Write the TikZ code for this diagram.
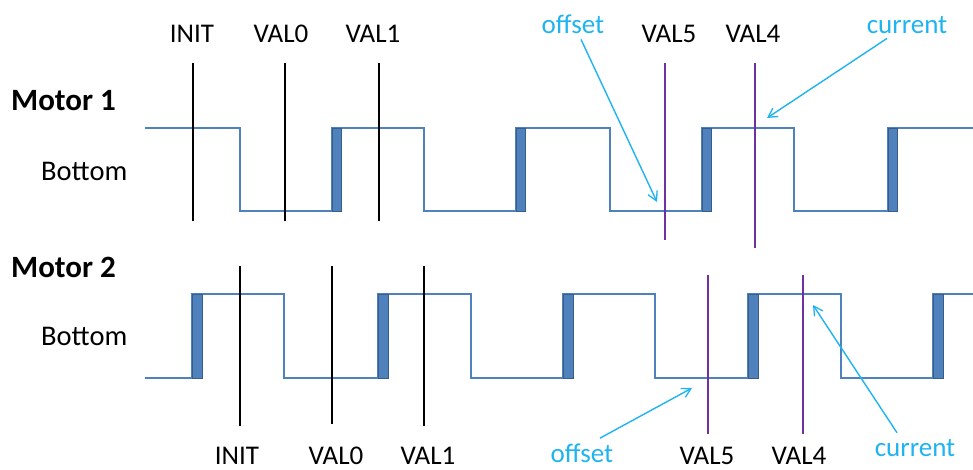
\documentclass[tikz,border=0pt]{standalone}
\usepackage{fontspec}
\setmainfont{Carlito}
\usetikzlibrary{arrows.meta}
\definecolor{wave}{HTML}{4F81BD}
\definecolor{waveedge}{HTML}{385D8A}
\definecolor{purp}{HTML}{7030A0}
\definecolor{sky}{HTML}{1FB4F0}
\tikzset{
  wavepath/.style={draw=wave, line width=1.5pt},
  edgebox/.style={fill=wave, draw=waveedge, line width=1pt},
  blackmark/.style={draw=black, line width=1.6pt},
  purplemark/.style={draw=purp, line width=1.6pt},
  lbl/.style={inner sep=0pt, anchor=base, font=\fontsize{27}{30}\selectfont},
  motorlbl/.style={inner sep=0pt, anchor=base west, font=\fontsize{31}{33}\selectfont\bfseries},
  bottomlbl/.style={inner sep=0pt, anchor=base west, font=\fontsize{28.5}{30}\selectfont},
  notelbl/.style={inner sep=0pt, anchor=base, text=sky, font=\fontsize{27}{30}\selectfont},
  notearrow/.style={draw=sky, line width=1.4pt, -{Straight Barb[length=9pt,width=10pt,line width=1.3pt]}}
}
\begin{document}
\begin{tikzpicture}[x=1pt,y=-1pt]
\useasboundingbox (0,0) rectangle (973,469);

% left labels
\node[motorlbl] (m1) at (11,110) {Motor 1};
\node[bottomlbl] (b1) at (41,180) {Bottom};
\node[motorlbl] (m2) at (11,277) {Motor 2};
\node[bottomlbl] (b2) at (41,345) {Bottom};

% ---- Motor 1 waveform
\draw[wavepath] (145,128) -- (240,128) -- (240,211) -- (332,211) -- (332,128)
  -- (424,128) -- (424,211) -- (516,211) -- (516,128) -- (610,128) -- (610,211)
  -- (702,211) -- (702,128) -- (794,128) -- (794,211) -- (888,211) -- (888,128) -- (973,128);
\foreach \a in {332,516,702,888}{
  \draw[edgebox] (\a,128) rectangle (\a+9,211);
}

% ---- Motor 2 waveform
\draw[wavepath] (145,378) -- (192,378) -- (192,294) -- (284,294) -- (284,378)
  -- (378,378) -- (378,294) -- (471,294) -- (471,378) -- (563,378) -- (563,294)
  -- (655,294) -- (655,378) -- (748,378) -- (748,294) -- (841,294) -- (841,378)
  -- (933,378) -- (933,294) -- (973,294);
\foreach \a in {192,378,563,748,933}{
  \draw[edgebox] (\a,294) rectangle (\a+10,378);
}

% ---- Motor 1 markers
\coordinate (i1t) at (193,63);  \coordinate (i1b) at (193,221);
\coordinate (v01t) at (285,63); \coordinate (v01b) at (285,221);
\coordinate (v11t) at (379,63); \coordinate (v11b) at (379,221);
\coordinate (v51t) at (665,63); \coordinate (v51b) at (665,240);
\coordinate (v41t) at (755,63); \coordinate (v41b) at (755,248);
\draw[blackmark] (i1t) -- (i1b);
\draw[blackmark] (v01t) -- (v01b);
\draw[blackmark] (v11t) -- (v11b);
\draw[purplemark] (v51t) -- (v51b);
\draw[purplemark] (v41t) -- (v41b);

\node[lbl] (ti1) at (192,42) {INIT};
\node[lbl] (tv01) at (281,42) {VAL0};
\node[lbl] (tv11) at (373,42) {VAL1};
\node[lbl] (tv51) at (669,42) {VAL5};
\node[lbl] (tv41) at (753,42) {VAL4};

% ---- Motor 2 markers
\coordinate (i2t) at (240,266);  \coordinate (i2b) at (240,426);
\coordinate (v02t) at (332,266); \coordinate (v02b) at (332,424);
\coordinate (v12t) at (424,266); \coordinate (v12b) at (424,426);
\coordinate (v52t) at (708,275); \coordinate (v52b) at (708,434);
\coordinate (v42t) at (803,275); \coordinate (v42b) at (803,434);
\draw[blackmark] (i2t) -- (i2b);
\draw[blackmark] (v02t) -- (v02b);
\draw[blackmark] (v12t) -- (v12b);
\draw[purplemark] (v52t) -- (v52b);
\draw[purplemark] (v42t) -- (v42b);

\node[lbl] (ti2) at (237,464) {INIT};
\node[lbl] (tv02) at (336,464) {VAL0};
\node[lbl] (tv12) at (428,464) {VAL1};
\node[lbl] (tv52) at (707,464) {VAL5};
\node[lbl] (tv42) at (799,464) {VAL4};

% ---- notes
\node[notelbl] (ofs1) at (573,33) {offset};
\node[notelbl] (cur1) at (907,33) {current};
\node[notelbl] (ofs2) at (582,462) {offset};
\node[notelbl] (cur2) at (915,456) {current};

\coordinate (ofs1tip) at (657,202);
\coordinate (cur1tip) at (767,118);
\coordinate (ofs2tip) at (692,388);
\coordinate (cur2tip) at (813,305);

\draw[notearrow] ([xshift=8pt,yshift=-6pt]ofs1.south) -- (ofs1tip);
\draw[notearrow] ([xshift=-20pt,yshift=-5pt]cur1.south) -- (cur1tip);
\draw[notearrow] ([xshift=18pt,yshift=5pt]ofs2.north) -- (ofs2tip);
\draw[notearrow] ([xshift=-18pt,yshift=6pt]cur2.north) -- (cur2tip);
\end{tikzpicture}
\end{document}
